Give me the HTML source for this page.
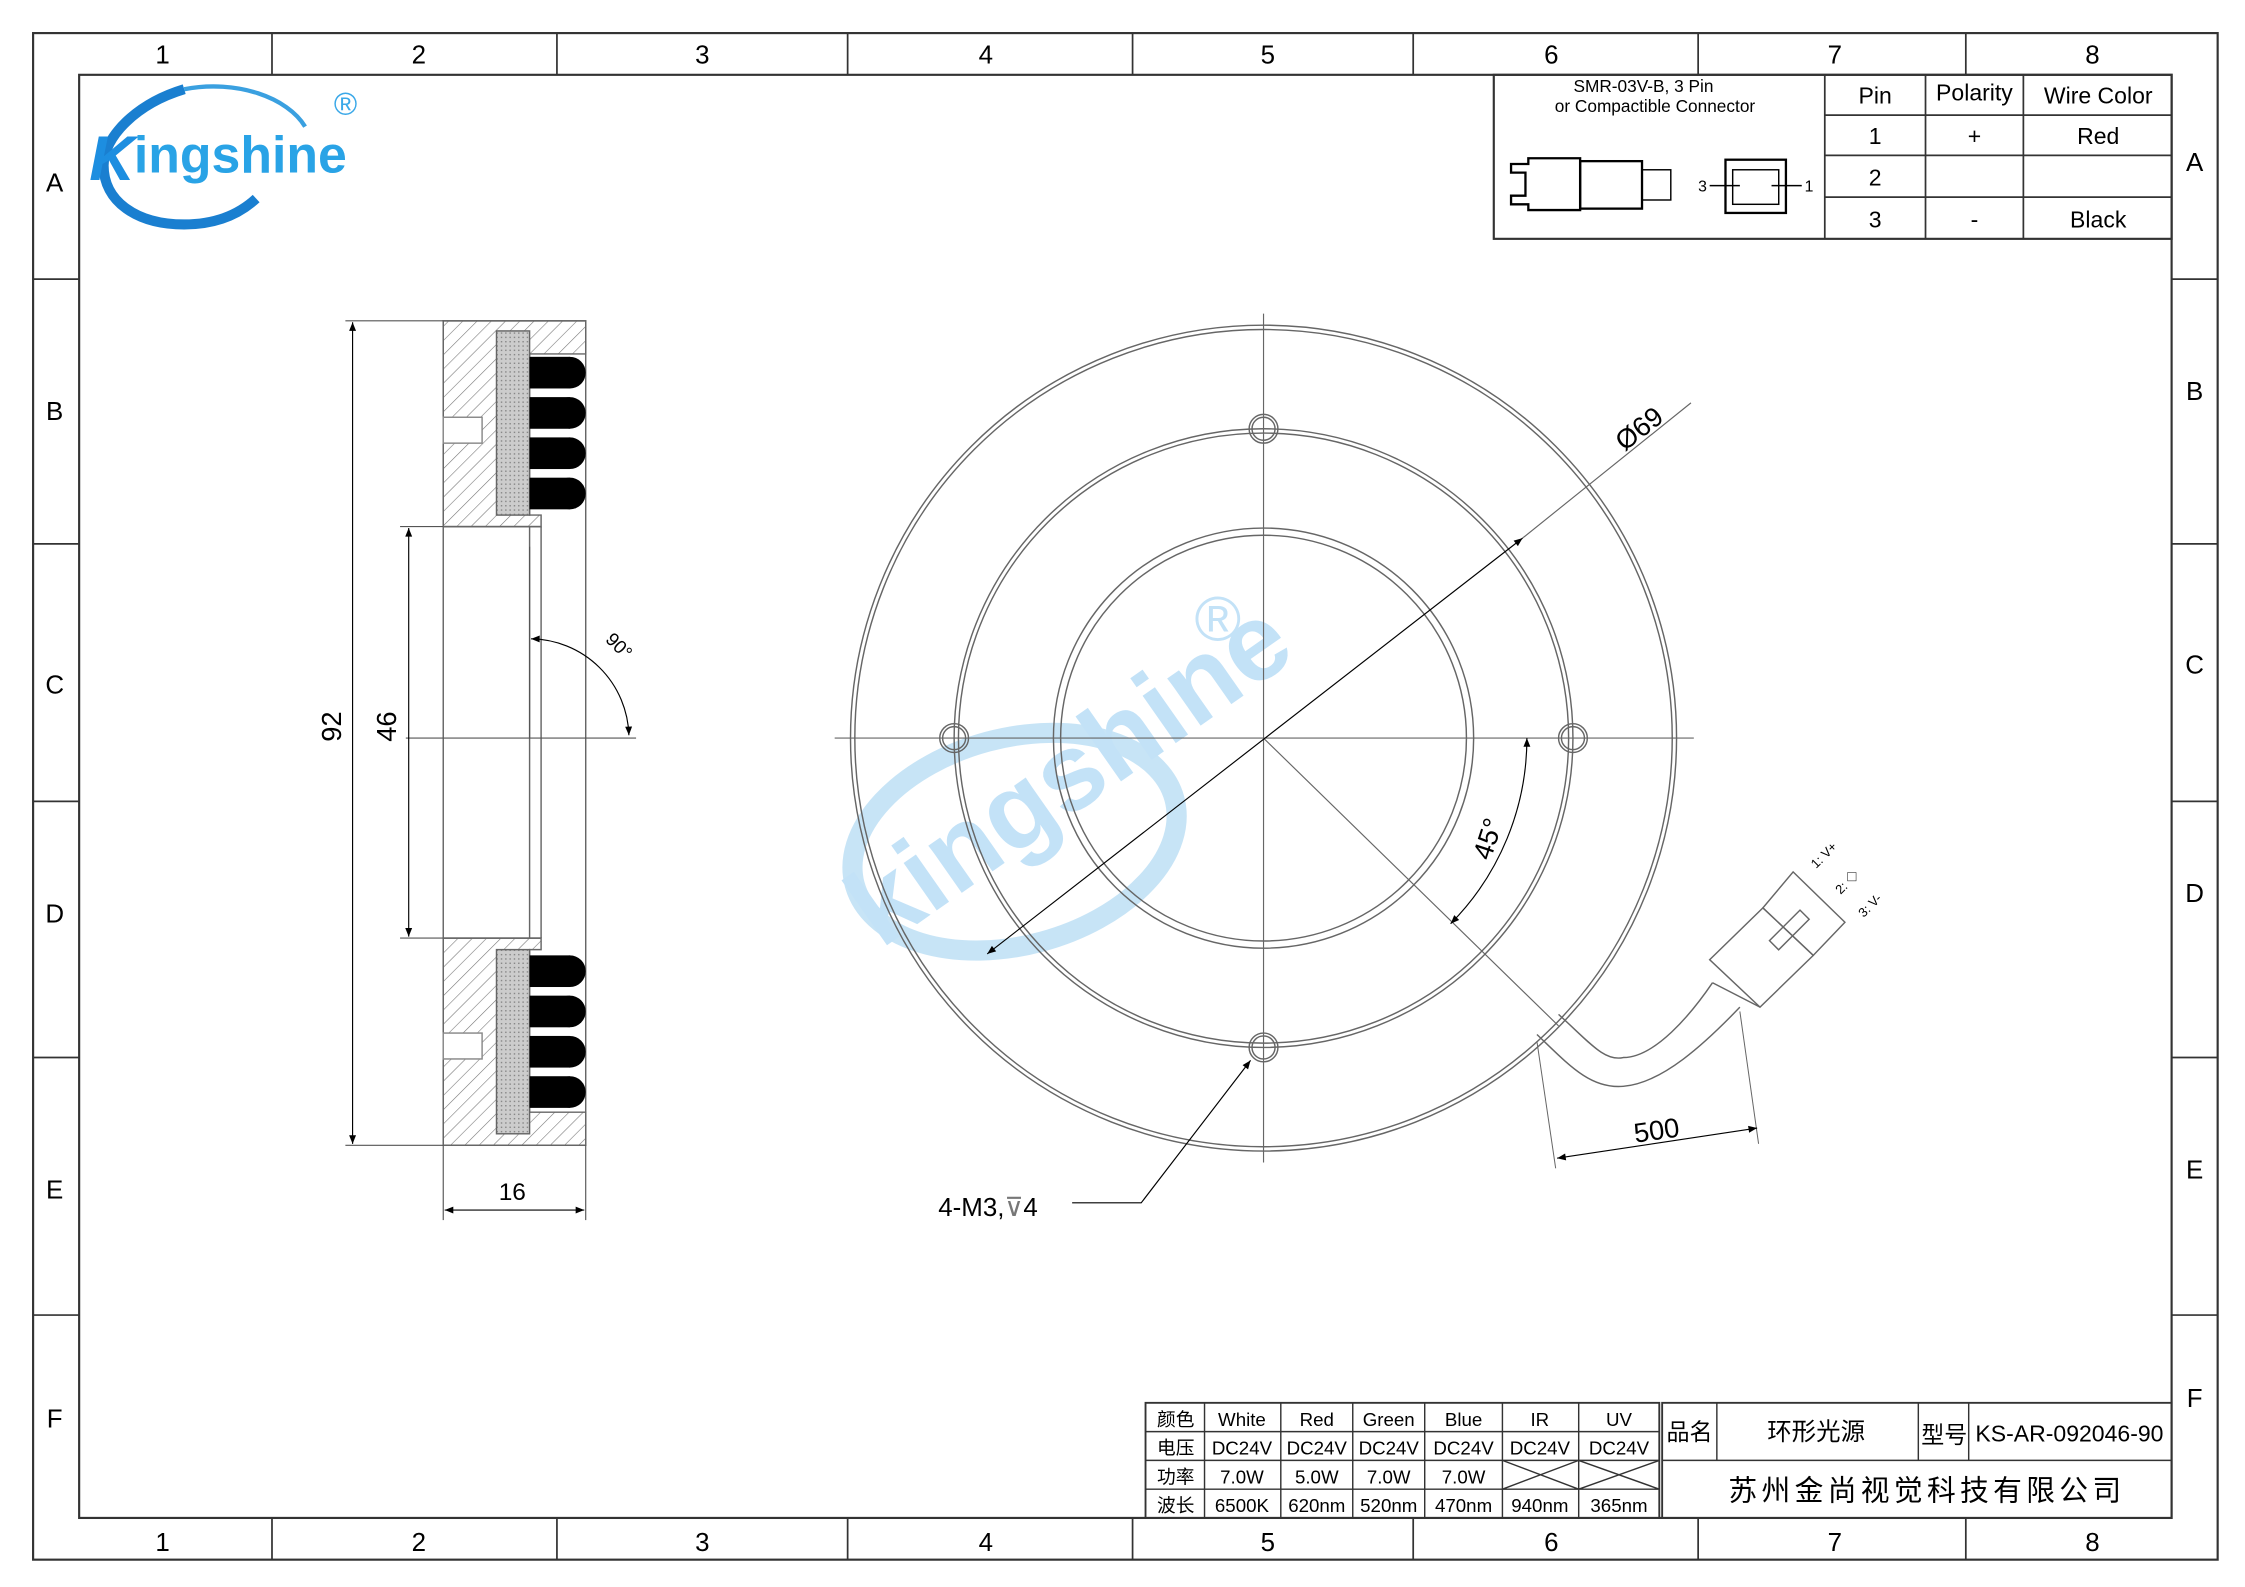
<!DOCTYPE html>
<html><head><meta charset="utf-8"><style>
html,body{margin:0;padding:0;background:#fff;}
svg{display:block;}
text{font-family:"Liberation Sans","Noto Sans CJK SC",sans-serif;}
.s{font-family:"Liberation Serif","Noto Serif CJK SC",serif;}
</style></head><body>
<svg width="2245" height="1587" viewBox="0 0 1560 1103" preserveAspectRatio="none" xmlns="http://www.w3.org/2000/svg">
<defs>
<pattern id="h" width="7" height="7" patternUnits="userSpaceOnUse" patternTransform="rotate(45)"><line x1="0" y1="0" x2="0" y2="7" stroke="#777" stroke-width="0.8"/></pattern>
<pattern id="g" width="3" height="3" patternUnits="userSpaceOnUse"><rect width="3" height="3" fill="#ccc"/><rect width="1" height="1" fill="#888"/></pattern>
<marker id="a" viewBox="0 0 10 10" refX="10" refY="5" markerWidth="10" markerHeight="6" orient="auto-start-reverse" markerUnits="userSpaceOnUse"><path d="M0,1 L10,5 L0,9z" fill="#000"/></marker>
</defs>
<rect x="0" y="0" width="1560" height="1103" fill="#fff"/>
<rect x="23" y="23" width="1518" height="1061" fill="none" stroke="#333" stroke-width="1.5"/>
<rect x="55" y="52" width="1454" height="1003" fill="none" stroke="#333" stroke-width="1.5"/>
<g stroke="#333" stroke-width="1.2">
<line x1="189" y1="23" x2="189" y2="52"/><line x1="387" y1="23" x2="387" y2="52"/><line x1="589" y1="23" x2="589" y2="52"/><line x1="787" y1="23" x2="787" y2="52"/><line x1="982" y1="23" x2="982" y2="52"/><line x1="1180" y1="23" x2="1180" y2="52"/><line x1="1366" y1="23" x2="1366" y2="52"/>
<line x1="189" y1="1055" x2="189" y2="1084"/><line x1="387" y1="1055" x2="387" y2="1084"/><line x1="589" y1="1055" x2="589" y2="1084"/><line x1="787" y1="1055" x2="787" y2="1084"/><line x1="982" y1="1055" x2="982" y2="1084"/><line x1="1180" y1="1055" x2="1180" y2="1084"/><line x1="1366" y1="1055" x2="1366" y2="1084"/>
<line x1="23" y1="194" x2="55" y2="194"/><line x1="23" y1="378" x2="55" y2="378"/><line x1="23" y1="557" x2="55" y2="557"/><line x1="23" y1="735" x2="55" y2="735"/><line x1="23" y1="914" x2="55" y2="914"/>
<line x1="1509" y1="194" x2="1541" y2="194"/><line x1="1509" y1="378" x2="1541" y2="378"/><line x1="1509" y1="557" x2="1541" y2="557"/><line x1="1509" y1="735" x2="1541" y2="735"/><line x1="1509" y1="914" x2="1541" y2="914"/>
</g>
<g font-size="18" text-anchor="middle" fill="#000">
<text x="113" y="44">1</text><text x="291" y="44">2</text><text x="488" y="44">3</text><text x="685" y="44">4</text><text x="881" y="44">5</text><text x="1078" y="44">6</text><text x="1275" y="44">7</text><text x="1454" y="44">8</text>
<text x="113" y="1078">1</text><text x="291" y="1078">2</text><text x="488" y="1078">3</text><text x="685" y="1078">4</text><text x="881" y="1078">5</text><text x="1078" y="1078">6</text><text x="1275" y="1078">7</text><text x="1454" y="1078">8</text>
<text x="38" y="133">A</text><text x="38" y="292">B</text><text x="38" y="482">C</text><text x="38" y="641">D</text><text x="38" y="833">E</text><text x="38" y="992">F</text>
<text x="1525" y="119">A</text><text x="1525" y="278">B</text><text x="1525" y="468">C</text><text x="1525" y="627">D</text><text x="1525" y="819">E</text><text x="1525" y="978">F</text>
</g>
<!-- logo -->
<path d="M128,62 C95,72 72,95 72,115 C72,140 95,156 128,156 C148,156 165,150 178,138" fill="none" stroke="#1a7fd0" stroke-width="7"/>
<path d="M128,62 C165,55 200,68 212,88" fill="none" stroke="#3aa0e0" stroke-width="3"/>
<text x="62" y="125" font-size="44" font-weight="bold" fill="#1d8ee0" font-style="italic">K</text>
<text x="93" y="120" font-size="36" font-weight="bold" fill="#29a3e6">ingshine</text>
<text x="232" y="80" font-size="22" fill="#3aa8e8">®</text>
<!-- connector table -->
<rect x="1038" y="52" width="471" height="114" fill="none" stroke="#333" stroke-width="1.5"/>
<g stroke="#333" stroke-width="1.2">
<line x1="1268" y1="52" x2="1268" y2="166"/><line x1="1338" y1="52" x2="1338" y2="166"/><line x1="1406" y1="52" x2="1406" y2="166"/>
<line x1="1268" y1="80" x2="1509" y2="80"/><line x1="1268" y1="108" x2="1509" y2="108"/><line x1="1268" y1="137" x2="1509" y2="137"/>
</g>
<g font-size="16" text-anchor="middle">
<text x="1303" y="72">Pin</text><text x="1372" y="70">Polarity</text><text x="1458" y="72">Wire Color</text>
<text x="1303" y="100">1</text><text x="1372" y="100">+</text><text x="1458" y="100">Red</text>
<text x="1303" y="129">2</text>
<text x="1303" y="158">3</text><text x="1372" y="158">-</text><text x="1458" y="158">Black</text>
</g>
<g font-size="12" text-anchor="middle"><text x="1142" y="64">SMR-03V-B, 3 Pin</text><text x="1150" y="78">or Compactible Connector</text></g>
<g fill="none" stroke="#000" stroke-width="1.6">
<path d="M1050,114 h12 v-4 h36 v36 h-36 v-4 h-12 v-6 h10 v-16 h-10z"/>
<rect x="1098" y="112" width="43" height="33"/>
<rect x="1141" y="118" width="20" height="21" stroke-width="1"/>
<rect x="1199" y="111" width="42" height="37"/><rect x="1204" y="118" width="32" height="24" stroke-width="1"/>
<line x1="1188" y1="129" x2="1209" y2="129" stroke-width="1"/><line x1="1231" y1="129" x2="1252" y2="129" stroke-width="1"/>
</g>
<text x="1180" y="133" font-size="11">3</text><text x="1254" y="133" font-size="11">1</text>
<!-- side section -->
<g stroke="#666" stroke-width="1" fill="none">
<rect x="308" y="223" width="99" height="573"/>
<line x1="308" y1="366" x2="376" y2="366"/><line x1="308" y1="652" x2="376" y2="652"/>
<line x1="368" y1="366" x2="368" y2="652"/><line x1="376" y1="366" x2="376" y2="652"/>
</g>
<path d="M308,223 H407 V246 H368 V358 H376 V366 H308z" fill="url(#h)" stroke="#666"/>
<path d="M308,796 H407 V773 H368 V660 H376 V652 H308z" fill="url(#h)" stroke="#666"/>
<rect x="345" y="230" width="23" height="128" fill="url(#g)" stroke="#666"/>
<rect x="345" y="660" width="23" height="128" fill="url(#g)" stroke="#666"/>
<rect x="308" y="290" width="27" height="18" fill="#fff" stroke="#888"/>
<rect x="308" y="718" width="27" height="18" fill="#fff" stroke="#888"/>
<g fill="#000">
<rect x="368" y="248" width="28" height="22"/><circle cx="396" cy="259" r="11"/>
<rect x="368" y="276" width="28" height="22"/><circle cx="396" cy="287" r="11"/>
<rect x="368" y="304" width="28" height="22"/><circle cx="396" cy="315" r="11"/>
<rect x="368" y="332" width="28" height="22"/><circle cx="396" cy="343" r="11"/>
<rect x="368" y="664" width="28" height="22"/><circle cx="396" cy="675" r="11"/>
<rect x="368" y="692" width="28" height="22"/><circle cx="396" cy="703" r="11"/>
<rect x="368" y="720" width="28" height="22"/><circle cx="396" cy="731" r="11"/>
<rect x="368" y="748" width="28" height="22"/><circle cx="396" cy="759" r="11"/>
</g>
<g stroke="#555" stroke-width="0.8" fill="none">
<line x1="240" y1="223" x2="308" y2="223"/><line x1="240" y1="796" x2="308" y2="796"/>
<line x1="278" y1="366" x2="308" y2="366"/><line x1="278" y1="652" x2="308" y2="652"/>
<line x1="308" y1="796" x2="308" y2="848"/><line x1="407" y1="796" x2="407" y2="848"/>
<line x1="282" y1="513" x2="442" y2="513"/>
<line x1="368" y1="380" x2="368" y2="513"/>
</g>
<g stroke="#000" stroke-width="0.8">
<line x1="245" y1="224" x2="245" y2="795" marker-start="url(#a)" marker-end="url(#a)"/>
<line x1="284" y1="367" x2="284" y2="651" marker-start="url(#a)" marker-end="url(#a)"/>
<line x1="309" y1="841" x2="406" y2="841" marker-start="url(#a)" marker-end="url(#a)"/>
<path d="M369,444 A69,69 0 0 1 437,511" fill="none" marker-start="url(#a)" marker-end="url(#a)"/>
</g>
<text transform="translate(237,505) rotate(-90)" font-size="19" text-anchor="middle">92</text>
<text transform="translate(275,505) rotate(-90)" font-size="19" text-anchor="middle">46</text>
<text x="356" y="834" font-size="17" text-anchor="middle">16</text>
<text transform="translate(427,452) rotate(45)" font-size="13" text-anchor="middle">90°</text>
<!-- watermark -->
<g opacity="0.28">
<ellipse cx="705" cy="585" rx="115" ry="72" transform="rotate(-15 705 585)" fill="none" stroke="#3aa0e0" stroke-width="14"/>
<text transform="translate(612,660) rotate(-35)" font-size="76" font-weight="bold" fill="#2b9ae6">kingshine</text>
<text x="830" y="445" font-size="44" fill="#2b9ae6">®</text>
</g>
<!-- ring -->
<g fill="none" stroke="#666" stroke-width="1">
<circle cx="878" cy="513" r="287"/><circle cx="878" cy="513" r="284"/>
<circle cx="878" cy="513" r="215"/><circle cx="878" cy="513" r="212"/>
<circle cx="878" cy="513" r="146"/><circle cx="878" cy="513" r="141"/>
<circle cx="878" cy="298" r="8"/><circle cx="878" cy="298" r="10"/>
<circle cx="663" cy="513" r="8"/><circle cx="663" cy="513" r="10"/>
<circle cx="1093" cy="513" r="8"/><circle cx="1093" cy="513" r="10"/>
<circle cx="878" cy="728" r="8"/><circle cx="878" cy="728" r="10"/>
<line x1="580" y1="513" x2="1177" y2="513" stroke-width="0.8"/>
<line x1="878" y1="218" x2="878" y2="808" stroke-width="0.8"/>
<line x1="878" y1="513" x2="1083" y2="713" stroke-width="0.8"/>
<line x1="1175" y1="280" x2="1058" y2="374" stroke-width="0.8"/>
<path d="M1083,705 C1105,725 1115,738 1128,735 C1150,735 1175,705 1190,683"/>
<path d="M1068,719 C1090,740 1105,757 1128,755 C1155,753 1185,725 1209,700"/>
<polygon points="1188,667 1223,700 1260,664 1225,631"/>
<polygon points="1225,631 1246,606 1282,641 1260,664"/>
<line x1="1190" y1="683" x2="1223" y2="700"/>
<rect x="1228" y="642" width="30" height="9" transform="rotate(-45 1243 646)"/>
<line x1="1068" y1="724" x2="1081" y2="812" stroke-width="0.7"/>
<line x1="1209" y1="703" x2="1222" y2="795" stroke-width="0.7"/>
</g>
<g stroke="#000" stroke-width="0.8" fill="none">
<line x1="1058" y1="374" x2="686" y2="663" marker-start="url(#a)" marker-end="url(#a)"/>
<path d="M1061,513 A183,183 0 0 1 1008,642" marker-start="url(#a)" marker-end="url(#a)"/>
<line x1="1082" y1="805" x2="1221" y2="784" marker-start="url(#a)" marker-end="url(#a)"/>
<polyline points="745,836 793,836 869,737" marker-end="url(#a)"/>
</g>
<text transform="translate(1143,303) rotate(-38)" font-size="19" text-anchor="middle">Ø69</text>
<text transform="translate(1040,585) rotate(-72)" font-size="19" text-anchor="middle">45°</text>
<text transform="translate(1152,792) rotate(-8)" font-size="19" text-anchor="middle">500</text>
<text x="652" y="845" font-size="18">4-M3,<tspan fill="#777">⊽</tspan>4</text>
<g font-size="9">
<text transform="translate(1262,604) rotate(-45)">1: V+</text>
<text transform="translate(1279,622) rotate(-45)">2: ◇</text>
<text transform="translate(1295,638) rotate(-45)">3: V-</text>
</g>
<!-- bottom table -->
<rect x="796" y="975" width="357" height="80" fill="none" stroke="#333" stroke-width="1.3"/>
<g stroke="#333" stroke-width="1">
<line x1="796" y1="995" x2="1153" y2="995"/><line x1="796" y1="1015" x2="1153" y2="1015"/><line x1="796" y1="1035" x2="1153" y2="1035"/>
<line x1="837" y1="975" x2="837" y2="1055"/><line x1="890" y1="975" x2="890" y2="1055"/><line x1="940" y1="975" x2="940" y2="1055"/><line x1="990" y1="975" x2="990" y2="1055"/><line x1="1044" y1="975" x2="1044" y2="1055"/><line x1="1097" y1="975" x2="1097" y2="1055"/>
<line x1="1044" y1="1015" x2="1097" y2="1035"/><line x1="1044" y1="1035" x2="1097" y2="1015"/>
<line x1="1097" y1="1015" x2="1153" y2="1035"/><line x1="1097" y1="1035" x2="1153" y2="1015"/>
</g>
<g class="s" font-size="13" text-anchor="middle">
<text x="817" y="991">颜色</text><text x="863" y="991">White</text><text x="915" y="991">Red</text><text x="965" y="991">Green</text><text x="1017" y="991">Blue</text><text x="1070" y="991">IR</text><text x="1125" y="991">UV</text>
<text x="817" y="1011">电压</text><text x="863" y="1011">DC24V</text><text x="915" y="1011">DC24V</text><text x="965" y="1011">DC24V</text><text x="1017" y="1011">DC24V</text><text x="1070" y="1011">DC24V</text><text x="1125" y="1011">DC24V</text>
<text x="817" y="1031">功率</text><text x="863" y="1031">7.0W</text><text x="915" y="1031">5.0W</text><text x="965" y="1031">7.0W</text><text x="1017" y="1031">7.0W</text>
<text x="817" y="1051">波长</text><text x="863" y="1051">6500K</text><text x="915" y="1051">620nm</text><text x="965" y="1051">520nm</text><text x="1017" y="1051">470nm</text><text x="1070" y="1051">940nm</text><text x="1125" y="1051">365nm</text>
</g>
<rect x="1155" y="975" width="354" height="80" fill="none" stroke="#333" stroke-width="1.3"/>
<g stroke="#333" stroke-width="1">
<line x1="1155" y1="1015" x2="1509" y2="1015"/>
<line x1="1193" y1="975" x2="1193" y2="1015"/><line x1="1333" y1="975" x2="1333" y2="1015"/><line x1="1368" y1="975" x2="1368" y2="1015"/>
</g>
<text x="1174" y="1001" font-size="16" text-anchor="middle">品名</text>
<text x="1262" y="1001" font-size="17" text-anchor="middle">环形光源</text>
<text x="1351" y="1003" font-size="16" text-anchor="middle">型号</text>
<text x="1438" y="1002" font-size="16" text-anchor="middle">KS-AR-092046-90</text>
<text x="1339" y="1043" font-size="20" text-anchor="middle" letter-spacing="3">苏州金尚视觉科技有限公司</text>
</svg>
</body></html>
